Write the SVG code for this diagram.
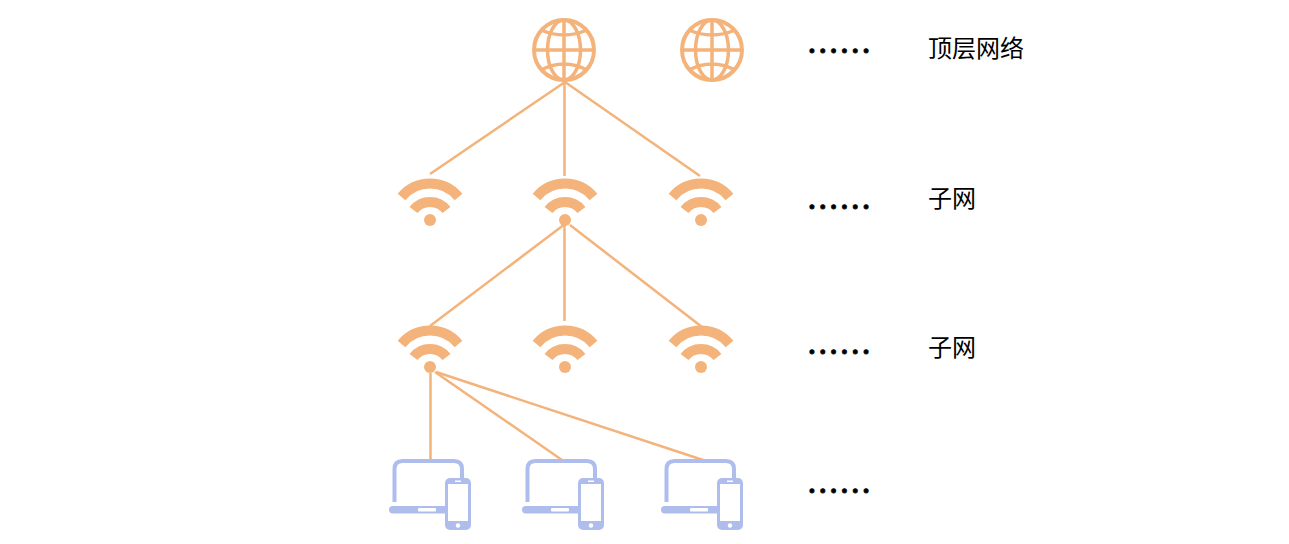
<svg xmlns="http://www.w3.org/2000/svg" width="1289" height="544" viewBox="0 0 1289 544">
<style>
.bg{fill:#fff}
.c line{stroke:#f3b37a;stroke-width:2.5;fill:none}
.g{fill:none;stroke:#f3b37a;stroke-width:4}
.gt{fill:none;stroke:#f3b37a;stroke-width:3.500}
.w{fill:none;stroke:#f3b37a;stroke-width:10}
.wd{fill:#f3b37a}
.dv{fill:#afbdec}
.dl{fill:none;stroke:#afbdec;stroke-width:4}
.s{fill:#fff}
.t{font-family:"Noto Sans CJK SC","Liberation Sans",sans-serif;font-size:24px;fill:#000}
.d{font-family:"Noto Sans CJK SC","Liberation Sans",sans-serif;font-size:32.500px;fill:#000;stroke:#000;stroke-width:.8}
</style>
<defs>
<g id="globe">
<circle class="g" cx="0" cy="0" r="30"/>
<ellipse class="gt" cx="0" cy="0" rx="16.500" ry="30"/>
<path class="gt" d="M0-30V30M-30 0H30M-23-20Q0-10 23-20M-23 20Q0 8 23 20"/>
</g>
<g id="wifi">
<path class="w" d="M-28.500-23A37 37 0 0 1 28.500-23"/>
<path class="w" d="M-16.500-10A21 21 0 0 1 16.500-10"/>
<circle class="wd" cx="0" cy="0" r="6"/>
</g>
<g id="device">
<path class="dl" d="M5.500 51V18Q5.500 10 13.500 10H65Q73 10 73 18V30"/>
<rect class="dv" x="0" y="55" width="60" height="7.500" rx="3.700"/>
<rect class="s" x="29" y="57" width="18" height="3.500" rx="1"/>
<rect class="dv" x="56" y="27" width="26" height="52" rx="5"/>
<rect class="s" x="59" y="33" width="20" height="37"/>
<rect class="s" x="66" y="29.500" width="6" height="1.500"/>
<circle class="s" cx="69" cy="74.500" r="2.200"/>
</g>
</defs>
<rect class="bg" width="1289" height="544"/>
<g id="connectors" class="c">
<line x1="565" y1="82" x2="430" y2="174"/>
<line x1="564.500" y1="82" x2="564.500" y2="176"/>
<line x1="565" y1="82" x2="700" y2="176"/>
<line x1="565" y1="224" x2="430" y2="326"/>
<line x1="564.500" y1="224" x2="564.500" y2="321"/>
<line x1="570" y1="225" x2="702" y2="327"/>
<line x1="430.500" y1="373" x2="430.500" y2="461"/>
<line x1="435" y1="372" x2="562" y2="460"/>
<line x1="436" y1="372" x2="703" y2="460"/>
</g>
<g id="globe-1"><use href="#globe" x="564" y="50"/></g>
<g id="globe-2"><use href="#globe" x="712" y="50"/></g>
<g id="wifi-1"><use href="#wifi" x="430" y="220"/></g>
<g id="wifi-2"><use href="#wifi" x="565" y="220"/></g>
<g id="wifi-3"><use href="#wifi" x="701" y="220"/></g>
<g id="wifi-4"><use href="#wifi" x="430" y="367"/></g>
<g id="wifi-5"><use href="#wifi" x="565" y="367"/></g>
<g id="wifi-6"><use href="#wifi" x="701" y="367"/></g>
<g id="device-1"><use href="#device" x="389" y="451"/></g>
<g id="device-2"><use href="#device" x="522" y="451"/></g>
<g id="device-3"><use href="#device" x="661" y="451"/></g>
<g id="labels">
<text class="d" x="806.500" y="62.500">……</text>
<text class="d" x="806.500" y="218.500">……</text>
<text class="d" x="806.500" y="363.500">……</text>
<text class="d" x="806.500" y="502.500">……</text>
<text class="t" x="928" y="57">顶层网络</text>
<text class="t" x="928" y="207">子网</text>
<text class="t" x="928" y="356">子网</text>
</g>
</svg>
